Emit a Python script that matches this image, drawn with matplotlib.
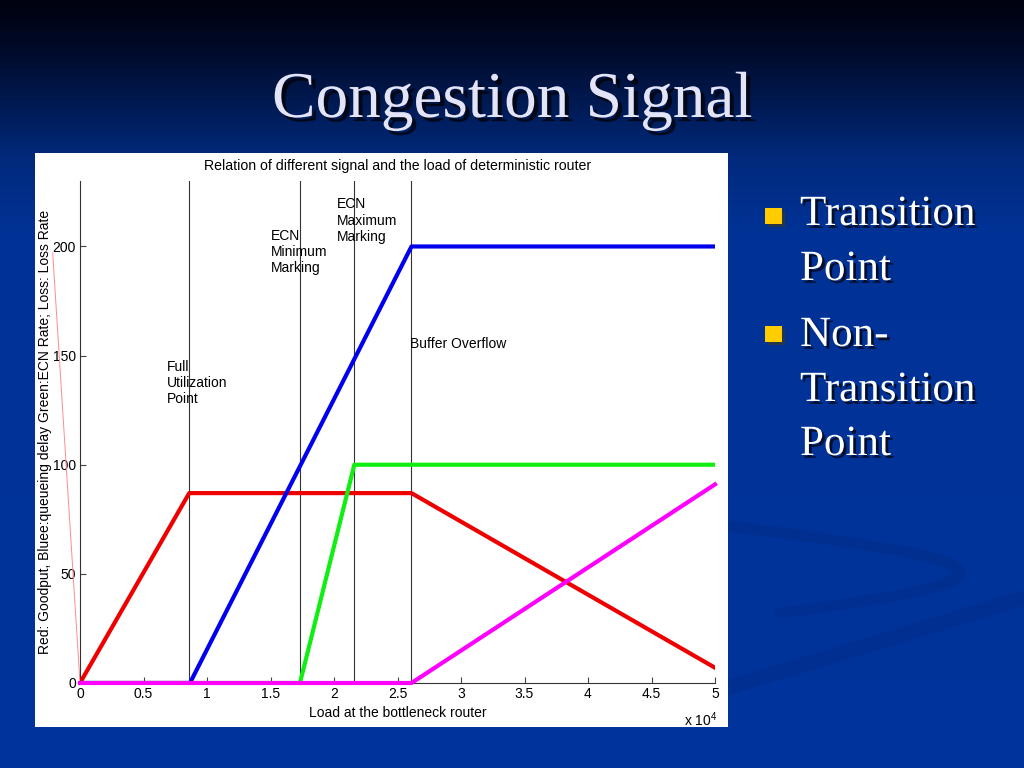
import numpy as np
import matplotlib
matplotlib.use('Agg')
import matplotlib.pyplot as plt
import matplotlib.patheffects as pe
from matplotlib.patches import Rectangle

# ---------------- data ----------------
goodput_x = [0, 8600, 26100, 50000]
goodput_y = [0, 87, 87, 7]
delay_x = [0, 8660, 26100, 50000]
delay_y = [0, 0, 200, 200]
ecn_x = [0, 17320, 21600, 50000]
ecn_y = [0, 0, 100, 100]
loss_x = [0, 26100, 50000]
loss_y = [0, 0, 91]
stray_x = [-2150, 0]
stray_y = [197, 0]
marker_x = [8600, 17320, 21600, 26100]
annot_text = ["Full\nUtilization\nPoint", "ECN\nMinimum\nMarking",
              "ECN\nMaximum\nMarking", "Buffer Overflow"]
annot_x = [6830, 15000, 20260, 25980]
annot_y = [148, 208, 222.5, 158.5]
xticks = [0, 5000, 10000, 15000, 20000, 25000, 30000, 35000, 40000, 45000, 50000]
xtick_labels = ['0', '0.5', '1', '1.5', '2', '2.5', '3', '3.5', '4', '4.5', '5']
yticks = [0, 50, 100, 150, 200]
ytick_labels = ['0', '50', '100', '150', '200']
bullets = [["Transition", "Point"], ["Non-", "Transition", "Point"]]

plt.rcParams['font.family'] = ['Liberation Sans', 'DejaVu Sans']
plt.rcParams['mathtext.fontset'] = 'custom'
plt.rcParams['mathtext.rm'] = 'Liberation Sans'

W, H = 1024, 768
fig = plt.figure(figsize=(W / 100, H / 100), dpi=100)

# ---------------- slide background ----------------
bg = fig.add_axes([0, 0, 1, 1])
bg.set_xlim(0, W)
bg.set_ylim(H, 0)
bg.axis('off')
rows = np.arange(H)
cp = [0, 40, 100, 160, 230, 768]
rr = np.interp(rows, cp, [0, 0, 0, 2, 0, 0])
gg = np.interp(rows, cp, [2, 8, 25, 42, 50, 52])
bb = np.interp(rows, cp, [15, 35, 80, 125, 150, 156])
grad = np.stack([rr, gg, bb], axis=1)[:, None, :] / 255.0
grad = np.repeat(grad, 4, axis=1)
bg.imshow(grad, extent=[0, W, H, 0], aspect='auto', zorder=0)

# decorative swooshes
t = np.linspace(0, 1, 100)
sx = 720 + 240 * np.sin(t * np.pi * 0.92)
sy = 525 + 88 * t
bg.plot(sx, sy, color='#00277e', lw=8, alpha=0.3, solid_capstyle='round', zorder=1)
lx = np.linspace(720, 1024, 50)
ly = 690 - 92 * (lx - 720) / 304
bg.plot(lx, ly, color='#00277e', lw=11, alpha=0.3, zorder=1)

# white chart panel
bg.add_patch(Rectangle((35, 153), 693, 574, facecolor='white', edgecolor='none', zorder=2))

# slide title
bg.text(512, 117, "Congestion Signal", family=['Liberation Serif', 'DejaVu Serif'],
        fontsize=47, color='#e4e4f8', ha='center', va='baseline', zorder=3,
        path_effects=[pe.withSimplePatchShadow(offset=(3, -3), shadow_rgbFace='black', alpha=0.7)])

# bullets
bullet_tops = [208, 326]
line_base = [[225, 280], [346, 401, 455]]
for top, lines, bases in zip(bullet_tops, bullets, line_base):
    bg.add_patch(Rectangle((765, top), 17, 16, facecolor='#ffcc00', edgecolor='none', zorder=3,
                           path_effects=[pe.withSimplePatchShadow(offset=(2, -2), alpha=0.5)]))
    for s, b in zip(lines, bases):
        bg.text(800, b, s, family=['Liberation Serif', 'DejaVu Serif'], fontsize=31,
                color='white', ha='left', va='baseline', zorder=3,
                path_effects=[pe.withSimplePatchShadow(offset=(2, -2), shadow_rgbFace='black', alpha=0.7)])

# ---------------- chart ----------------
ax = fig.add_axes([80 / W, (H - 683) / H, 635 / W, 502 / H])
ax.set_facecolor('none')
ax.set_xlim(0, 50000)
ax.set_ylim(0, 230)

for xv in marker_x:
    ax.plot([xv, xv], [0, 230], color='#333333', lw=0.8, zorder=2)

ax.plot(stray_x, stray_y, color='#ff8c8c', lw=0.7, clip_on=False, zorder=2)
ax.plot(goodput_x, goodput_y, color='#ee0000', lw=3, zorder=3)
ax.plot(delay_x, delay_y, color='#0000ee', lw=3, zorder=3)
ax.plot(ecn_x, ecn_y, color='#11ee11', lw=3, zorder=3)
ax.plot(loss_x, loss_y, color='#ff00ff', lw=3, zorder=4, clip_on=False)

for s, xv, yv in zip(annot_text, annot_x, annot_y):
    ax.text(xv, yv, s, fontsize=10, ha='left', va='top', linespacing=1.2, zorder=5)

ax.set_xticks(xticks)
ax.set_xticklabels(xtick_labels)
ax.set_yticks(yticks)
ax.set_yticklabels(ytick_labels)
ax.tick_params(direction='in', length=4, width=0.8, labelsize=10, colors='#444444',
               labelcolor='black', pad=3)
for side in ['top', 'right']:
    ax.spines[side].set_visible(False)
for side in ['left', 'bottom']:
    ax.spines[side].set_color('#333333')
    ax.spines[side].set_linewidth(0.8)

ax.set_title("Relation of different signal and the load of deterministic router",
             fontsize=10.2, pad=8)
ax.set_xlabel("Load at the bottleneck router", fontsize=10)
ax.set_ylabel("Red: Goodput, Bluee:queueing delay Green:ECN Rate; Loss: Loss Rate", fontsize=10)
ax.xaxis.set_label_coords(0.5, -0.046)
ax.yaxis.set_label_coords(-0.044, 0.5)

bg.text(684, 720, r"x 10$^4$", fontsize=10, ha='left', va='center', zorder=3)

fig.savefig('out.png', dpi=100)
